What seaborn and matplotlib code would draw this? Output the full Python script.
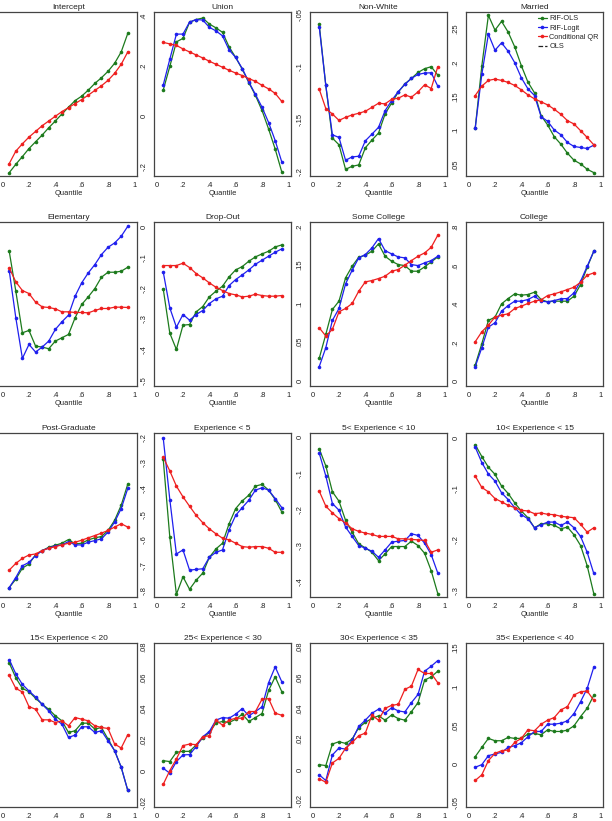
import numpy as np
import pandas as pd
import matplotlib
matplotlib.use("Agg")
import matplotlib.pyplot as plt
from matplotlib.lines import Line2D
from matplotlib.ticker import FuncFormatter
import seaborn as sns

# ---------------- data ----------------
quantiles = [0.05, 0.10, 0.15, 0.20, 0.25, 0.30, 0.35, 0.40, 0.45, 0.50,
             0.55, 0.60, 0.65, 0.70, 0.75, 0.80, 0.85, 0.90, 0.95]

intercept_ols = [1.200, 1.308, 1.408, 1.512, 1.599, 1.686, 1.781, 1.868, 1.959, 2.046,
                 2.132, 2.189, 2.267, 2.354, 2.427, 2.510, 2.614, 2.761, 3.000]
intercept_qr = [1.317, 1.478, 1.573, 1.660, 1.733, 1.807, 1.868, 1.929, 1.989, 2.041,
                2.093, 2.145, 2.202, 2.263, 2.323, 2.393, 2.484, 2.601, 2.761]

union_ols = [.104, .198, .296, .310, .374, .385, .391, .367, .352, .334,
             .276, .234, .187, .134, .083, .023, -.051, -.131, -.222]
union_logit = [.124, .227, .327, .327, .375, .385, .383, .354, .340, .320,
               .264, .234, .190, .136, .087, .036, -.025, -.097, -.182]
union_qr = [.294, .288, .282, .268, .256, .244, .232, .219, .207, .195,
            .183, .172, .162, .150, .139, .123, .109, .091, .059]

nonwhite_ols = [-.0593, -.1178, -.1682, -.1746, -.1981, -.1952, -.1939, -.1775, -.1701, -.1634,
                -.1451, -.1345, -.1242, -.1162, -.1110, -.1053, -.1017, -.0998, -.1078]
nonwhite_logit = [-.0616, -.1178, -.1650, -.1676, -.1894, -.1862, -.1856, -.1708, -.1644, -.1579,
                  -.1419, -.1322, -.1236, -.1168, -.1110, -.1072, -.1059, -.1056, -.1184]
nonwhite_qr = [-.1213, -.1399, -.1451, -.1512, -.1483, -.1460, -.1444, -.1425, -.1387, -.1348,
               -.1354, -.1310, -.1300, -.1268, -.1290, -.1239, -.1171, -.1207, -.0998]

married_ols = [.1033, .1947, .2693, .2475, .2604, .2446, .2228, .1952, .1710, .1552,
               .1216, .1078, .0905, .0796, .0663, .0559, .0505, .0426, .0377]
married_logit = [.1033, .1823, .2416, .2179, .2288, .2164, .1996, .1774, .1611, .1512,
                 .1201, .1132, .1004, .0935, .0821, .0762, .0747, .0732, .0781]
married_qr = [.1512, .1651, .1735, .1754, .1735, .1705, .1660, .1596, .1522, .1463,
              .1419, .1374, .1310, .1236, .1142, .1093, .0994, .0895, .0786]

elementary_ols = [-.140, -.260, -.385, -.378, -.425, -.428, -.433, -.410, -.400, -.390,
                  -.340, -.300, -.277, -.252, -.218, -.203, -.203, -.200, -.188]
elementary_logit = [-.198, -.340, -.462, -.420, -.443, -.428, -.410, -.375, -.352, -.332,
                    -.275, -.235, -.205, -.180, -.150, -.128, -.115, -.095, -.065]
elementary_qr = [-.190, -.232, -.258, -.267, -.293, -.307, -.309, -.313, -.322, -.322,
                 -.324, -.324, -.325, -.318, -.312, -.312, -.308, -.308, -.309]

dropout_ols = [-.2017, -.3460, -.3991, -.3200, -.3178, -.2766, -.2592, -.2278, -.2093, -.1931,
               -.1627, -.1399, -.1291, -.1117, -.0976, -.0879, -.0792, -.0651, -.0586]
dropout_logit = [-.1464, -.2636, -.3265, -.2852, -.3037, -.2852, -.2722, -.2495, -.2343, -.2256,
                 -.1909, -.1714, -.1562, -.1399, -.1215, -.1085, -.0954, -.0824, -.0716]
dropout_qr = [-.1258, -.1258, -.1258, -.1182, -.1323, -.1518, -.1659, -.1822, -.1963, -.2072,
              -.2169, -.2213, -.2278, -.2256, -.2191, -.2234, -.2256, -.2256, -.2234]

somecoll_ols = [.0289, .0599, .0922, .1030, .1332, .1483, .1599, .1625, .1677, .1772,
                .1612, .1547, .1504, .1491, .1418, .1418, .1474, .1539, .1603]
somecoll_logit = [.0181, .0427, .0780, .0935, .1254, .1431, .1591, .1634, .1720, .1841,
                  .1685, .1642, .1603, .1591, .1504, .1491, .1526, .1556, .1612]
somecoll_qr = [.0685, .0578, .0664, .0892, .0935, .1000, .1159, .1280, .1297, .1323,
               .1353, .1418, .1440, .1496, .1556, .1612, .1655, .1728, .1884]

college_ols = [.0829, .1935, .3145, .3318, .4009, .4285, .4527, .4458, .4492, .4613,
               .4233, .4112, .4147, .4147, .4147, .4406, .5011, .5909, .6739]
college_logit = [.0743, .1728, .2799, .3024, .3629, .3922, .4147, .4147, .4233, .4406,
                 .4147, .4112, .4181, .4268, .4285, .4579, .5184, .5961, .6739]
college_qr = [.2039, .2557, .2903, .3318, .3421, .3490, .3767, .3888, .4026, .4147,
              .4216, .4441, .4527, .4631, .4752, .4873, .5132, .5495, .5616]

postgrad_ols = [.250, .2917, .3467, .3667, .4133, .4333, .4500, .4600, .4700, .4883,
                .4667, .4700, .4867, .4967, .5033, .5333, .5833, .6583, .7633]
postgrad_logit = [.250, .300, .3583, .375, .4083, .4333, .4467, .4567, .4617, .4783,
                  .4617, .4617, .4750, .4833, .4917, .5250, .5750, .6417, .7417]
postgrad_qr = [.3367, .370, .395, .4117, .4167, .4333, .445, .4533, .4617, .470,
               .475, .485, .4967, .5083, .520, .5333, .550, .5667, .550]

exp5_ols = [-.2853, -.5898, -.8129, -.7446, -.7932, -.7577, -.7302, -.6685, -.6357, -.6134,
            -.5373, -.4782, -.4480, -.4257, -.3903, -.3837, -.4060, -.4428, -.4913]
exp5_logit = [-.2026, -.4428, -.6554, -.6396, -.7184, -.7157, -.7131, -.6685, -.6488, -.6396,
              -.5609, -.5045, -.4743, -.4454, -.4060, -.3969, -.4060, -.4388, -.4743]
exp5_qr = [-.2774, -.3312, -.3903, -.4323, -.4690, -.5045, -.5333, -.5570, -.5766, -.5937,
           -.6003, -.6134, -.6265, -.6291, -.6265, -.6265, -.6331, -.6488, -.6488]

exp10_ols = [-.0326, -.0800, -.1516, -.1777, -.2307, -.2633, -.2958, -.3070, -.3191, -.3423,
             -.3237, -.3033, -.3033, -.3033, -.2884, -.3005, -.3219, -.3702, -.4335]
exp10_logit = [-.0447, -.1079, -.1842, -.2028, -.2493, -.2753, -.3005, -.3079, -.3163, -.3330,
               -.3126, -.2912, -.2884, -.2865, -.2679, -.2726, -.2940, -.3256, -.3767]
exp10_qr = [-.1498, -.1916, -.2102, -.2260, -.2381, -.2540, -.2614, -.2660, -.2698, -.2753,
            -.2753, -.2753, -.2819, -.2819, -.2837, -.2847, -.2865, -.3191, -.3126]

exp15_ols = [-.0132, -.0364, -.0576, -.0715, -.0947, -.1093, -.1278, -.1437, -.1570, -.1768,
             -.1689, -.1689, -.1722, -.1788, -.1755, -.1907, -.2119, -.2517, -.3066]
exp15_logit = [-.0179, -.0483, -.0709, -.0848, -.1079, -.1212, -.1371, -.1510, -.1589, -.1768,
               -.1709, -.1656, -.1656, -.1722, -.1656, -.1768, -.1940, -.2252, -.2669]
exp15_qr = [-.0748, -.0974, -.1060, -.1192, -.1258, -.1325, -.1371, -.1424, -.1437, -.1490,
            -.1477, -.1503, -.1510, -.1543, -.1556, -.1570, -.1702, -.1854, -.1768]

exp20_ols = [.1033, .0733, .052, .0453, .032, .020, .010, -.0033, -.0133, -.0367,
             -.0333, -.018, -.018, -.030, -.0267, -.050, -.0733, -.1067, -.1533]
exp20_logit = [.110, .0813, .060, .0467, .0347, .020, .0067, -.010, -.020, -.0467,
               -.042, -.0253, -.0253, -.0367, -.0333, -.0533, -.0733, -.1067, -.1533]
exp20_qr = [.078, .052, .0447, .0153, .010, -.0113, -.0113, -.0167, -.0133, -.0233,
            -.0067, -.010, -.0133, -.0233, -.0267, -.0287, -.060, -.068, -.0413]

exp30_ols = [.0068, .0062, .0122, .0128, .0128, .0169, .0214, .0250, .0310, .0321,
             .0314, .0335, .0368, .0321, .0346, .0372, .0521, .0609, .0513]
exp30_logit = [.0019, -.0013, .0062, .0105, .0107, .0158, .0222, .0256, .0329, .0346,
               .0342, .0368, .0404, .0357, .0385, .0415, .0571, .0673, .0577]
exp30_qr = [-.0085, .0004, .0079, .0165, .0175, .0171, .0222, .0229, .0329, .0297,
            .0329, .0342, .0342, .0385, .0385, .0464, .0468, .0374, .0361]

exp35_ols = [.0034, .0028, .0168, .0183, .0172, .0200, .0275, .0308, .0335, .0351,
             .0323, .0357, .0333, .0323, .0378, .0437, .0583, .0604, .0641]
exp35_logit = [-.0032, -.0069, .0097, .0142, .0135, .0194, .0282, .0323, .0368, .0394,
               .0368, .0404, .0383, .0376, .0437, .0490, .0641, .0673, .0710]
exp35_qr = [-.0058, -.0080, .0045, .0075, .0140, .0178, .0222, .0239, .0355, .0323,
            .0400, .0419, .0426, .0523, .0544, .0652, .0626, .0626, .0566]

exp40_ols = [.0094, .0214, .0330, .0300, .0300, .0343, .0330, .0330, .0386, .0394,
             .0377, .0441, .0420, .0420, .0437, .0493, .0613, .0720, .0887]
exp40_logit = [-.0043, -.0009, .0107, .0129, .0150, .0214, .0236, .0274, .0351, .0420,
               .0420, .0514, .0514, .0527, .0557, .0652, .0806, .0977, .1252]
exp40_qr = [-.0214, -.0141, .0043, .0137, .0171, .0180, .0279, .0330, .0441, .0429,
            .0514, .0566, .0600, .0699, .0742, .0892, .0934, .0943, .0823]

titles = ["Intercept", "Union", "Non-White", "Married",
          "Elementary", "Drop-Out", "Some College", "College",
          "Post-Graduate", "Experience < 5", "5< Experience < 10", "10< Experience < 15",
          "15< Experience < 20", "25< Experience < 30", "30< Experience < 35", "35< Experience < 40"]

series = [
    (intercept_ols, None, intercept_qr),
    (union_ols, union_logit, union_qr),
    (nonwhite_ols, nonwhite_logit, nonwhite_qr),
    (married_ols, married_logit, married_qr),
    (elementary_ols, elementary_logit, elementary_qr),
    (dropout_ols, dropout_logit, dropout_qr),
    (somecoll_ols, somecoll_logit, somecoll_qr),
    (college_ols, college_logit, college_qr),
    (postgrad_ols, postgrad_logit, postgrad_qr),
    (exp5_ols, exp5_logit, exp5_qr),
    (exp10_ols, exp10_logit, exp10_qr),
    (exp15_ols, exp15_logit, exp15_qr),
    (exp20_ols, exp20_logit, exp20_qr),
    (exp30_ols, exp30_logit, exp30_qr),
    (exp35_ols, exp35_logit, exp35_qr),
    (exp40_ols, exp40_logit, exp40_qr),
]

y_limits = [(1.157, 3.277), (-0.238, 0.415), (-0.2045, -0.0474), (0.0327, 0.2742),
            (-0.545, -0.052), (-0.518, 0.016), (-0.007, 0.2056), (-0.026, 0.826),
            (0.2033, 1.0167), (-0.8234, -0.183), (-0.443, 0.011), (-0.3132, 0.0099),
            (-0.1867, 0.1433), (-0.0231, 0.0827), (-0.0241, 0.0824), (-0.0557, 0.1564)]
y_ticks = [[1.5, 2, 2.5, 3], [-0.2, 0, 0.2, 0.4], [-0.2, -0.15, -0.1, -0.05],
           [0.05, 0.1, 0.15, 0.2, 0.25],
           [-0.5, -0.4, -0.3, -0.2, -0.1], [-0.5, -0.4, -0.3, -0.2, -0.1, 0],
           [0, 0.05, 0.1, 0.15, 0.2], [0, 0.2, 0.4, 0.6, 0.8],
           [0.4, 0.6, 0.8, 1.0], [-0.8, -0.7, -0.6, -0.5, -0.4, -0.3, -0.2],
           [-0.4, -0.3, -0.2, -0.1, 0], [-0.3, -0.2, -0.1, 0],
           [-0.1, 0, 0.1], [-0.02, 0, 0.02, 0.04, 0.06, 0.08],
           [-0.02, 0, 0.02, 0.04, 0.06, 0.08], [-0.05, 0, 0.05, 0.1, 0.15]]
x_ticks = [0, 0.2, 0.4, 0.6, 0.8, 1.0]
series_names = ["RIF-OLS", "RIF-Logit", "Conditional QR"]

# ---------------- style ----------------
sns.set_style("white")
plt.rcParams["font.family"] = ["Liberation Sans", "DejaVu Sans"]

colors = {"RIF-OLS": "#1c7a1c", "RIF-Logit": "#1f1fee", "Conditional QR": "#ee1f1f"}

W, H = 612, 821
fig = plt.figure(figsize=(W / 100, H / 100), dpi=100)

col_left = [0, 154, 310, 466]
row_top = [12, 222, 433, 643]
ax_w, ax_h = 137, 164


def stata_fmt(v, pos=None):
    s = f"{v:g}"
    s = s.replace("0.", ".") if (s.startswith("0.") or s.startswith("-0.")) else s
    return s


for i, (title, (s_ols, s_logit, s_qr)) in enumerate(zip(titles, series)):
    r, c = divmod(i, 4)
    left = col_left[c] / W
    bottom = 1 - (row_top[r] + ax_h) / H
    ax = fig.add_axes([left, bottom, ax_w / W, ax_h / H])

    rows = []
    for name, vals in zip(series_names, (s_ols, s_logit, s_qr)):
        if vals is None:
            continue
        for q, v in zip(quantiles, vals):
            rows.append({"Quantile": q, "value": v, "series": name})
    df = pd.DataFrame(rows)
    sns.lineplot(data=df, x="Quantile", y="value", hue="series",
                 hue_order=[n for n in series_names if n in set(df["series"])],
                 palette=colors, marker="o", markersize=2.6, markeredgewidth=0,
                 linewidth=0.9, legend=False, ax=ax, sort=False, errorbar=None)

    ax.set_xlim(-0.02, 1.02)
    ax.set_ylim(*y_limits[i])
    ax.set_xticks(x_ticks)
    ax.set_yticks(y_ticks[i])
    ax.xaxis.set_major_formatter(FuncFormatter(stata_fmt))
    ax.yaxis.set_major_formatter(FuncFormatter(stata_fmt))
    ax.tick_params(axis="both", which="major", direction="out", length=3, width=0.6,
                   colors="#333333", labelsize=5.5, pad=1.5, labelcolor="#222222")
    if c == 0:
        # the first column's y scale lies beyond the figure's left edge
        ax.tick_params(axis="y", left=False, labelleft=False)
    for lab in ax.get_yticklabels():
        lab.set_rotation(90)
        lab.set_va("center")
    if r < 3:
        ax.set_xlabel("Quantile", fontsize=5.4, labelpad=0.5, color="#222222")
    else:
        # the bottom row's axis title falls below the figure's edge
        ax.set_xlabel("")
    ax.set_ylabel("")
    ax.set_title(title, fontsize=6, pad=2.5, color="#222222")
    for sp in ax.spines.values():
        sp.set_visible(True)
        sp.set_color("#444444")
        sp.set_linewidth(0.9)
    if c == 0:
        ax.spines["left"].set_visible(False)

    if title == "Married":
        handles = [Line2D([0], [0], color=colors[n], marker="o", markersize=2.6,
                          markeredgewidth=0, linewidth=0.9) for n in series_names]
        handles.append(Line2D([0], [0], color="#222222", linestyle="--", linewidth=0.9))
        ax.legend(handles, series_names + ["OLS"], loc="upper left",
                  bbox_to_anchor=(538 / W, 1 - 15 / H), bbox_transform=fig.transFigure,
                  frameon=False, fontsize=5.3, handlelength=1.2, handletextpad=0.35,
                  labelspacing=0.3, borderpad=0, borderaxespad=0)

fig.savefig("out.png", dpi=100, facecolor="white")
